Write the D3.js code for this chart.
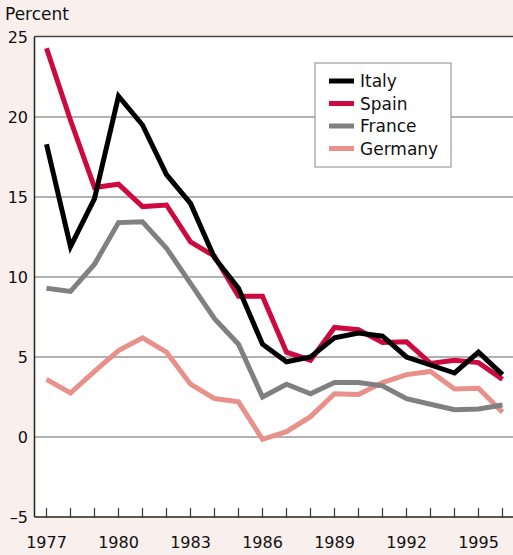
<!DOCTYPE html>
<html>
<head>
<meta charset="utf-8">
<script src="https://cdn.jsdelivr.net/npm/d3@7"></script>
<style>
  body { margin: 0; background: #f9efed; }
  svg { display: block; font-family: "DejaVu Sans", "Liberation Sans", Arial, sans-serif; }
</style>
</head>
<body>
<svg id="chart" width="513" height="555"></svg>
<script>
const years = d3.range(1977, 1997);
const italy   = [18.3, 11.9, 14.9, 21.3, 19.5, 16.4, 14.6, 11.2, 9.3, 5.8, 4.7, 5.0, 6.2, 6.5, 6.3, 5.0, 4.5, 4.0, 5.3, 3.9];
const spain   = [24.3, 19.8, 15.6, 15.8, 14.4, 14.5, 12.2, 11.3, 8.8, 8.8, 5.3, 4.8, 6.85, 6.7, 5.9, 5.95, 4.6, 4.8, 4.65, 3.6];
const france  = [9.3, 9.1, 10.8, 13.4, 13.45, 11.8, 9.6, 7.4, 5.8, 2.5, 3.3, 2.7, 3.4, 3.4, 3.2, 2.4, 2.05, 1.7, 1.75, 2.0];
const germany = [3.6, 2.75, 4.1, 5.4, 6.2, 5.3, 3.3, 2.4, 2.2, -0.15, 0.33, 1.27, 2.7, 2.65, 3.4, 3.9, 4.1, 3.0, 3.05, 1.55];
const yTicks = [-5, 0, 5, 10, 15, 20, 25];
const xLabels = [1977, 1980, 1983, 1986, 1989, 1992, 1995];

const series = [
  { name: "Italy", values: italy, color: "#000000" },
  { name: "Spain", values: spain, color: "#cc0a3f" },
  { name: "France", values: france, color: "#808080" },
  { name: "Germany", values: germany, color: "#e8908a" }
];

const svg = d3.select("#chart");
const plotLeft = 34.5, plotTop = 36.5, plotBottom = 517;

const x = d3.scaleLinear().domain([1976.5, 1996.5]).range([plotLeft, plotLeft + 480]);
const y = d3.scaleLinear().domain([-5, 25]).range([plotBottom, plotTop + 0.5]);

// plot area
svg.append("rect")
  .attr("x", plotLeft).attr("y", plotTop)
  .attr("width", 513 - plotLeft).attr("height", plotBottom - plotTop)
  .attr("fill", "#fff");

// gridlines
svg.append("g")
  .selectAll("line")
  .data(yTicks.filter(d => d > -5 && d < 25))
  .enter().append("line")
  .attr("x1", plotLeft).attr("x2", 513)
  .attr("y1", d => y(d)).attr("y2", d => y(d))
  .attr("stroke", "#999").attr("stroke-width", 1.5);

// y axis labels
svg.append("g")
  .selectAll("text")
  .data(yTicks)
  .enter().append("text")
  .attr("x", 28)
  .attr("y", d => y(d) + 6)
  .attr("text-anchor", "end")
  .attr("font-size", 16)
  .attr("fill", "#111")
  .text(d => d < 0 ? "\u2013" + Math.abs(d) : d);

svg.append("text")
  .attr("x", 5).attr("y", 20)
  .attr("font-size", 17)
  .attr("fill", "#111")
  .text("Percent");

// x axis ticks (inward)
svg.append("g")
  .selectAll("line")
  .data(years)
  .enter().append("line")
  .attr("x1", d => x(d)).attr("x2", d => x(d))
  .attr("y1", plotBottom).attr("y2", plotBottom - 9)
  .attr("stroke", "#333").attr("stroke-width", 1.2);

svg.append("g")
  .selectAll("text")
  .data(xLabels)
  .enter().append("text")
  .attr("x", d => x(d))
  .attr("y", 548)
  .attr("text-anchor", "middle")
  .attr("font-size", 16)
  .attr("fill", "#111")
  .text(d => d);

// lines
const line = d3.line()
  .x((d, i) => x(years[i]))
  .y(d => y(d));

svg.append("g")
  .selectAll("path")
  .data(series.slice().reverse())
  .enter().append("path")
  .attr("d", d => line(d.values))
  .attr("fill", "none")
  .attr("stroke", d => d.color)
  .attr("stroke-width", 5)
  .attr("stroke-linejoin", "miter");

// frame
svg.append("line")
  .attr("x1", plotLeft).attr("x2", 513).attr("y1", plotTop).attr("y2", plotTop)
  .attr("stroke", "#444").attr("stroke-width", 1.5);
svg.append("line")
  .attr("x1", plotLeft).attr("x2", plotLeft).attr("y1", plotTop).attr("y2", plotBottom)
  .attr("stroke", "#222").attr("stroke-width", 1.5);
svg.append("line")
  .attr("x1", plotLeft).attr("x2", 513).attr("y1", plotBottom).attr("y2", plotBottom)
  .attr("stroke", "#222").attr("stroke-width", 1.5);

// legend
const legend = svg.append("g").attr("transform", "translate(315,63)");
legend.append("rect")
  .attr("width", 136).attr("height", 104)
  .attr("fill", "#fff").attr("stroke", "#888").attr("stroke-width", 1);

const item = legend.selectAll("g.item")
  .data(series)
  .enter().append("g")
  .attr("transform", (d, i) => `translate(0,${18 + i * 22.5})`);

item.append("line")
  .attr("x1", 14).attr("x2", 39)
  .attr("stroke", d => d.color).attr("stroke-width", 5);

item.append("text")
  .attr("x", 45).attr("y", 6)
  .attr("font-size", 17)
  .attr("fill", "#111")
  .text(d => d.name);
</script>
</body>
</html>
